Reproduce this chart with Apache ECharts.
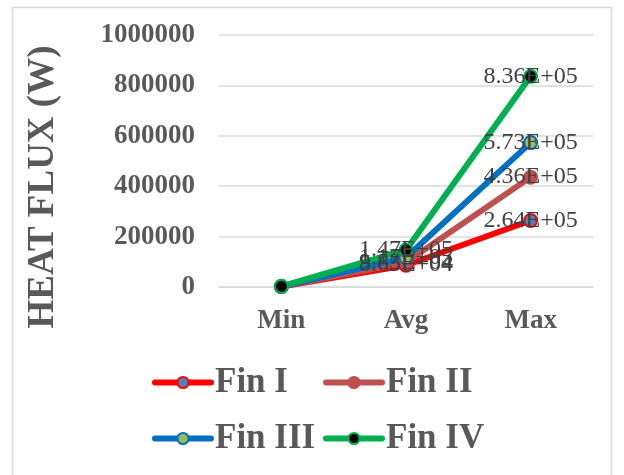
<!DOCTYPE html>
<html>
<head>
<meta charset="utf-8">
<script src="https://cdn.jsdelivr.net/npm/echarts@6/dist/echarts.min.js"></script>
<style>
  html, body { margin: 0; padding: 0; background: #fff; }
  #chart { width: 624px; height: 475px; }
</style>
</head>
<body>
<div id="chart"></div>
<script>
// Heat flux per fin design at the minimum, average and maximum operating points
const categories = ['Min', 'Avg', 'Max'];
const finI   = [1500, 86500, 264000];
const finII  = [1800, 98300, 436000];
const finIII = [2000, 117000, 573000];
const finIV  = [2500, 147000, 836000];
const yTicks = { min: 0, max: 1000000, step: 200000 };
const yTitle = 'HEAT FLUX (W)';

const serif = '"Liberation Serif", "Times New Roman", serif';
const grey = '#595959';

// Scientific notation like 8.36E+05
function sci(v) {
  const parts = v.toExponential(2).split('e');
  const exp = parseInt(parts[1], 10);
  const sign = exp < 0 ? '-' : '+';
  const e = String(Math.abs(exp)).padStart(2, '0');
  return parts[0] + 'E' + sign + e;
}

function makeSeries(name, values, lineColor, fill, border) {
  return {
    name: name,
    type: 'line',
    data: values,
    symbol: 'circle',
    symbolSize: 13,
    lineStyle: { color: lineColor, width: 6 },
    itemStyle: { color: fill, borderColor: border, borderWidth: 2 },
    label: {
      show: true,
      position: 'inside',
      fontFamily: serif,
      fontSize: 24,
      color: '#404040',
      formatter: p => (p.dataIndex === 0 ? '' : sci(p.value))
    },
    emphasis: { disabled: true },
    animation: false
  };
}

const series = [
  makeSeries('Fin I', finI, '#FF0000', '#4F81BD', '#FF0000'),
  makeSeries('Fin II', finII, '#C0504D', '#C0504D', '#C0504D'),
  makeSeries('Fin III', finIII, '#0070C0', '#9BBB59', '#0070C0'),
  makeSeries('Fin IV', finIV, '#00B050', '#000000', '#00B050')
];

function legendAt(name, left, top) {
  return {
    data: [name],
    left: left,
    top: top,
    itemWidth: 56,
    itemHeight: 14,
    itemGap: 0,
    padding: 0,
    lineStyle: { width: 6, cap: 'round' },
    textStyle: {
      fontFamily: serif,
      fontWeight: 'bold',
      fontSize: 35,
      color: grey,
      padding: [0, 0, 0, -1]
    }
  };
}

const chart = echarts.init(document.getElementById('chart'), null, { renderer: 'canvas' });
chart.setOption({
  backgroundColor: '#ffffff',
  animation: false,
  graphic: [
    {
      type: 'rect',
      shape: { x: 12.5, y: 7.5, width: 599, height: 480 },
      style: { fill: 'none', stroke: '#d9d9d9', lineWidth: 1.5 },
      silent: true
    },
    {
      // vertical value-axis title
      type: 'text',
      x: 43,
      y: 187,
      rotation: Math.PI / 2,
      silent: true,
      style: {
        text: yTitle,
        font: 'bold 37px ' + serif,
        fill: grey,
        align: 'center',
        verticalAlign: 'middle'
      }
    }
  ],
  grid: { left: 219, right: 31, top: 35, bottom: 188 },
  legend: [
    legendAt('Fin I', 152, 365),
    legendAt('Fin II', 323, 365),
    legendAt('Fin III', 152, 421),
    legendAt('Fin IV', 323, 421)
  ],
  xAxis: {
    type: 'category',
    data: categories,
    boundaryGap: true,
    axisLine: { lineStyle: { color: '#d9d9d9', width: 1.5 } },
    axisTick: { show: false },
    axisLabel: {
      fontFamily: serif,
      fontWeight: 'bold',
      fontSize: 27,
      color: grey,
      margin: 21
    }
  },
  yAxis: {
    type: 'value',
    min: yTicks.min,
    max: yTicks.max,
    interval: yTicks.step,
    axisLine: { show: false },
    axisTick: { show: false },
    splitLine: { lineStyle: { color: '#d9d9d9', width: 1.5 } },
    axisLabel: {
      fontFamily: serif,
      fontWeight: 'bold',
      fontSize: 27,
      color: grey,
      margin: 24,
      formatter: v => String(v)
    }
  },
  series: series
});
</script>
</body>
</html>
